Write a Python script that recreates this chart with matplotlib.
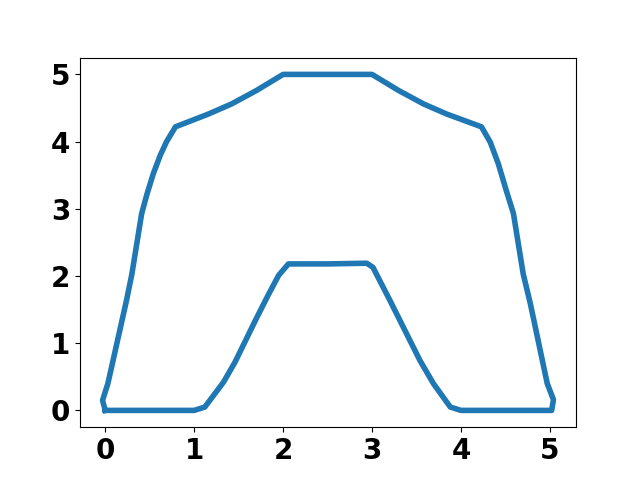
import matplotlib.pyplot as plt

# outline traced as one closed path
x = [0.0, -0.03, 0.03, 0.24, 0.30, 0.41, 0.47, 0.54, 0.62, 0.69, 0.79, 1.16, 1.42, 1.70, 2.0,
     2.5, 3.0, 3.30, 3.58, 3.84, 4.23, 4.33, 4.42, 4.51, 4.59, 4.70, 4.78, 4.97, 5.04, 5.02,
     4.0, 3.88, 3.69, 3.54, 3.20, 3.01, 2.94, 2.5, 2.06, 1.95, 1.83, 1.70, 1.46, 1.33, 1.12, 1.0, 0.0]
y = [0.0, 0.15, 0.40, 1.64, 2.03, 2.93, 3.22, 3.52, 3.80, 4.0, 4.22, 4.41, 4.56, 4.76, 5.0,
     5.0, 5.0, 4.76, 4.56, 4.41, 4.22, 3.99, 3.67, 3.27, 2.93, 2.03, 1.59, 0.40, 0.16, 0.0,
     0.0, 0.05, 0.40, 0.74, 1.64, 2.13, 2.19, 2.18, 2.18, 2.01, 1.71, 1.37, 0.72, 0.42, 0.05, 0.0, 0.0]

plt.rcParams['font.size'] = 20
plt.rcParams['font.weight'] = 'bold'

fig, ax = plt.subplots(figsize=(6.4, 4.8), dpi=100)
ax.plot(x, y, linewidth=4, color='#1f77b4')
ax.set_xticks([0, 1, 2, 3, 4, 5])
ax.set_yticks([0, 1, 2, 3, 4, 5])
plt.savefig('out.png')
